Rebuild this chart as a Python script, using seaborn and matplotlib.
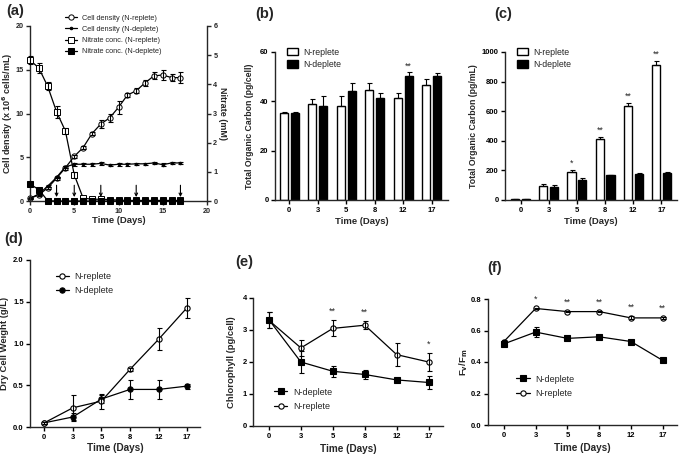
import numpy as np
import pandas as pd
import matplotlib
matplotlib.use("Agg")
import matplotlib.pyplot as plt
import seaborn as sns

# ---------------- data ----------------
# (a) growth and nitrate, daily
days_a = list(range(18))
cell_rep = [0.3, 0.7, 1.5, 2.6, 3.8, 5.1, 6.1, 7.7, 8.8, 9.5, 10.7, 12.1, 12.6, 13.5, 14.3, 14.4, 14.1, 14.1]
cell_rep_err = [0.1, 0.1, 0.15, 0.15, 0.2, 0.2, 0.2, 0.2, 0.4, 0.5, 0.7, 0.2, 0.3, 0.3, 0.4, 0.6, 0.4, 0.6]
cell_dep = [0.3, 0.8, 1.7, 2.7, 3.9, 4.2, 4.2, 4.2, 4.3, 4.1, 4.2, 4.2, 4.25, 4.25, 4.35, 4.15, 4.35, 4.35]
cell_dep_err = [0.1, 0.1, 0.1, 0.1, 0.15, 0.15, 0.15, 0.15, 0.15, 0.15, 0.15, 0.15, 0.15, 0.1, 0.1, 0.15, 0.1, 0.1]
nit_rep = [4.83, 4.56, 3.93, 3.06, 2.40, 0.90, 0.10, 0.06, 0.06, 0.05, 0.03, 0.02, 0.02, 0.02, 0.02, 0.02, 0.02, 0.02]
nit_rep_err = [0.14, 0.17, 0.14, 0.20, 0.09, 0.11, 0.02, 0.02, 0.02, 0.02, 0.01, 0.01, 0.01, 0.01, 0.01, 0.01, 0.01, 0.01]
nit_dep = [0.58, 0.39, 0.01, 0.0, 0.0, 0.0, 0.0, 0.0, 0.0, 0.0, 0.0, 0.0, 0.0, 0.0, 0.0, 0.0, 0.0, 0.0]
nit_dep_err = [0.03, 0.05, 0.01, 0.0, 0.0, 0.0, 0.0, 0.0, 0.0, 0.0, 0.0, 0.0, 0.0, 0.0, 0.0, 0.0, 0.0, 0.0]
arrow_days = [3, 5, 8, 12, 17]

# sampling days for panels (b)-(f)
days_cat = ["0", "3", "5", "8", "12", "17"]
groups = ["N-replete", "N-deplete"]

# (b) TOC per cell (pg/cell)
toc_cell_rep = [35.2, 39.0, 38.2, 44.4, 41.2, 46.8]
toc_cell_rep_err = [0.4, 1.8, 4.1, 2.9, 2.0, 2.3]
toc_cell_dep = [35.2, 38.1, 44.3, 41.2, 50.2, 50.3]
toc_cell_dep_err = [0.4, 4.2, 3.0, 2.0, 1.5, 1.3]
stars_b_dep = ["", "", "", "", "**", ""]

# (c) TOC per volume (pg/mL)
toc_ml_rep = [5, 96, 186, 415, 632, 913]
toc_ml_rep_err = [2, 10, 18, 12, 22, 28]
toc_ml_dep = [5, 90, 135, 168, 179, 184]
toc_ml_dep_err = [2, 10, 15, 4, 4, 4]
stars_c_rep = ["", "", "*", "**", "**", "**"]

# (d) dry cell weight (g/L)
dcw_rep = [0.05, 0.23, 0.31, 0.69, 1.05, 1.43]
dcw_rep_err = [0.01, 0.15, 0.09, 0.02, 0.13, 0.12]
dcw_dep = [0.05, 0.12, 0.335, 0.45, 0.45, 0.49]
dcw_dep_err = [0.01, 0.05, 0.05, 0.11, 0.11, 0.03]

# (e) chlorophyll (pg/cell)
chl_rep = [3.30, 2.44, 3.05, 3.15, 2.23, 2.00]
chl_rep_err = [0.25, 0.25, 0.25, 0.12, 0.36, 0.27]
chl_dep = [3.32, 2.00, 1.71, 1.61, 1.44, 1.36]
chl_dep_err = [0.25, 0.35, 0.17, 0.14, 0.05, 0.20]
stars_e = ["", "", "**", "**", "", "*"]

# (f) Fv/Fm
fv_rep = [0.53, 0.74, 0.72, 0.72, 0.68, 0.68]
fv_rep_err = [0.01, 0.005, 0.005, 0.005, 0.01, 0.005]
fv_dep = [0.515, 0.59, 0.55, 0.56, 0.53, 0.41]
fv_dep_err = [0.015, 0.03, 0.01, 0.01, 0.01, 0.01]
stars_f = ["", "*", "**", "**", "**", "**"]

# ---------------- style ----------------
sns.set_theme(style="ticks")
plt.rcParams["font.family"] = ["Liberation Sans", "DejaVu Sans"]
plt.rcParams["axes.linewidth"] = 1.0
plt.rcParams["xtick.major.width"] = 1.0
plt.rcParams["ytick.major.width"] = 1.0
plt.rcParams["xtick.major.size"] = 3
plt.rcParams["ytick.major.size"] = 3
plt.rcParams["xtick.major.pad"] = 2
plt.rcParams["ytick.major.pad"] = 1.5

W, H = 685, 457
fig = plt.figure(figsize=(W / 100, H / 100), dpi=100)


def px_axes(l, t, r, b):
    return fig.add_axes([l / W, 1 - b / H, (r - l) / W, (b - t) / H])


def style_ax(ax, tick_fs=5.5):
    sns.despine(ax=ax)
    ax.tick_params(labelsize=tick_fs, colors="black", direction="out")
    for lab in ax.get_xticklabels() + ax.get_yticklabels():
        lab.set_fontweight("bold")


def panel_letter(x, y, s):
    fig.text(x / W, 1 - y / H, s, fontsize=10.5, fontweight="bold", va="top", ha="left")


EB = dict(fmt="none", ecolor="black", elinewidth=0.8, capsize=1.8, capthick=0.8, clip_on=False)

# ================= (a) =================
axa = px_axes(30, 26, 207, 201)
axb2 = axa.twinx()
sns.lineplot(x=days_a, y=cell_rep, ax=axa, color="black", marker="o", markersize=3.8,
             markerfacecolor="white", markeredgecolor="black", markeredgewidth=0.7,
             linewidth=0.9, errorbar=None, clip_on=False)
h1 = axa.lines[-1]
axa.errorbar(days_a, cell_rep, yerr=cell_rep_err, **EB)
sns.lineplot(x=days_a, y=cell_dep, ax=axa, color="black", marker="o", markersize=1.8,
             markerfacecolor="black", markeredgecolor="black", linewidth=0.9, errorbar=None,
             clip_on=False)
h2 = axa.lines[-1]
axa.errorbar(days_a, cell_dep, yerr=cell_dep_err, **EB)

sns.lineplot(x=days_a, y=nit_rep, ax=axb2, color="black", marker="s", markersize=3.8,
             markerfacecolor="white", markeredgecolor="black", markeredgewidth=0.7,
             linewidth=0.9, errorbar=None, clip_on=False)
h3 = axb2.lines[-1]
axb2.errorbar(days_a, nit_rep, yerr=nit_rep_err, **EB)
sns.lineplot(x=days_a, y=nit_dep, ax=axb2, color="black", marker="s", markersize=3.8,
             markerfacecolor="black", markeredgecolor="black", linewidth=0.9, errorbar=None,
             clip_on=False)
h4 = axb2.lines[-1]
axb2.errorbar(days_a, nit_dep, yerr=nit_dep_err, **EB)

for d in arrow_days:
    axa.annotate("", xy=(d, 0.45), xytext=(d, 1.8),
                 arrowprops=dict(arrowstyle="->", color="black", lw=0.8,
                                 shrinkA=0, shrinkB=0, mutation_scale=5))

axa.set_xlim(0, 20)
axa.set_ylim(0, 20)
axb2.set_ylim(0, 6)
axa.set_xticks([0, 5, 10, 15, 20])
axa.set_yticks([0, 5, 10, 15, 20])
axb2.set_yticks([0, 1, 2, 3, 4, 5, 6])
axa.spines["top"].set_visible(False)
axb2.spines["top"].set_visible(False)
axa.spines["right"].set_visible(False)
axb2.spines["left"].set_visible(False)
axb2.spines["bottom"].set_visible(False)
axa.tick_params(labelsize=5.2, direction="out")
axb2.tick_params(labelsize=5.2, direction="out")
for lab in axa.get_xticklabels() + axa.get_yticklabels() + axb2.get_yticklabels():
    lab.set_fontweight("bold")
axa.set_xlabel("Time (Days)", fontsize=6.8, fontweight="bold")
axa.xaxis.set_label_coords(0.5, -0.086)
axa.set_ylabel("Cell density (x 10$^{\\mathbf{6}}$ cells/mL)", fontsize=6.5, fontweight="bold")
axa.yaxis.set_label_coords(-0.085, 0.5)
axb2.set_ylabel("Nitrate (mM)", fontsize=6.5, fontweight="bold", rotation=270, va="center")
axb2.yaxis.set_label_coords(1.09, 0.5)
axb2.legend([h1, h2, h3, h4],
            ["Cell density (N-replete)", "Cell density (N-deplete)",
             "Nitrate conc. (N-replete)", "Nitrate conc. (N-deplete)"],
            loc="center left", bbox_to_anchor=(0.2, 0.949), frameon=False, fontsize=5.3,
            handlelength=1.6, handletextpad=0.6, labelspacing=0.55, borderpad=0,
            borderaxespad=0)
panel_letter(6, 4, "(a)")


# ================= bar panels =================
def bar_panel(ax, rep, rep_err, dep, dep_err, ylim, yticks, ylabel, ylab_x, xlim, stars, star_group):
    df = pd.DataFrame({
        "day": days_cat * 2,
        "value": rep + dep,
        "group": [groups[0]] * len(days_cat) + [groups[1]] * len(days_cat),
    })
    sns.barplot(data=df, x="day", y="value", hue="group", order=days_cat, hue_order=groups,
                palette={"N-replete": "white", "N-deplete": "black"}, edgecolor="black",
                linewidth=1.0, width=0.76, gap=0.24, errorbar=None, ax=ax)
    for cont, err, vals in zip(ax.containers, [rep_err, dep_err], [rep, dep]):
        xs = [b.get_x() + b.get_width() / 2 for b in cont]
        ax.errorbar(xs, vals, yerr=[[0] * len(vals), err], **EB)
    cont = ax.containers[star_group]
    vals = [rep, dep][star_group]
    errs = [rep_err, dep_err][star_group]
    for b, v, e, s in zip(cont, vals, errs, stars):
        if s:
            ax.annotate(s, (b.get_x() + b.get_width() / 2, v + e), xytext=(0, 1.5),
                        textcoords="offset points", ha="center", va="bottom", fontsize=6.3)
    ax.set_ylim(*ylim)
    ax.set_yticks(yticks)
    ax.set_xlim(*xlim)
    style_ax(ax)
    ax.set_xlabel("Time (Days)", fontsize=6.8, fontweight="bold")
    ax.xaxis.set_label_coords(0.5, -0.117)
    ax.set_ylabel(ylabel, fontsize=6.3, fontweight="bold")
    ax.yaxis.set_label_coords(ylab_x, 0.5)
    handles, labels = ax.get_legend_handles_labels()
    ax.legend(handles, labels, loc="upper left", bbox_to_anchor=(0.07, 1.03), frameon=False,
              fontsize=6.3, handlelength=1.3, handleheight=1.0, handletextpad=0.6,
              labelspacing=0.35, borderpad=0, borderaxespad=0)


axb = px_axes(275, 52, 448, 200)
bar_panel(axb, toc_cell_rep, toc_cell_rep_err, toc_cell_dep, toc_cell_dep_err,
          (0, 60), [0, 20, 40, 60], "Total Organic Carbon (pg/cell)", -0.121,
          (-0.5, 5.57), stars_b_dep, 1)
panel_letter(255, 7, "(b)")

axc = px_axes(505, 52, 677, 200)
bar_panel(axc, toc_ml_rep, toc_ml_rep_err, toc_ml_dep, toc_ml_dep_err,
          (0, 1000), [0, 200, 400, 600, 800, 1000], "Total Organic Carbon (pg/mL)", -0.157,
          (-0.55, 5.55), stars_c_rep, 0)
panel_letter(494, 7, "(c)")


# ================= point panels =================
def point_panel(ax, series, ylim, yticks, ylabel, ylab_x, xlab_y, stars, star_series,
                legend_anchor, legend_order, yfmt=None):
    handles = {}
    for name, vals, errs, mk, fc in series:
        sns.pointplot(x=days_cat, y=vals, order=days_cat, color="black", markers=mk,
                      markersize=3.8, linewidth=0.9, markerfacecolor=fc,
                      markeredgecolor="black", markeredgewidth=0.8, errorbar=None, ax=ax)
        ln = ax.lines[-1]
        handles[name] = ln
        xs = ln.get_xdata()
        ax.errorbar(xs, vals, yerr=errs, **EB)
    ln = handles[star_series[0]]
    xs = ln.get_xdata()
    for x, v, e, s in zip(xs, star_series[1], star_series[2], stars):
        if s:
            ax.annotate(s, (x, v + e), xytext=(0, 3), textcoords="offset points",
                        ha="center", va="bottom", fontsize=6.5)
    ax.set_ylim(*ylim)
    ax.set_yticks(yticks)
    if yfmt:
        ax.set_yticklabels([yfmt.format(t) for t in yticks])
    ax.set_xlim(-0.5, 5.45)
    style_ax(ax)
    ax.set_xlabel("Time (Days)", fontsize=7.2, fontweight="bold")
    ax.xaxis.set_label_coords(0.5, xlab_y)
    ax.set_ylabel(ylabel, fontsize=6.8, fontweight="bold")
    ax.yaxis.set_label_coords(ylab_x, 0.5)
    ax.legend([handles[n] for n in legend_order], legend_order, loc="upper left",
              bbox_to_anchor=legend_anchor, frameon=False, fontsize=6.5, handlelength=1.5,
              handletextpad=0.6, labelspacing=0.6, borderpad=0, borderaxespad=0)


axd = px_axes(30, 260, 200, 427)
point_panel(axd,
            [("N-deplete", dcw_dep, dcw_dep_err, "o", "black"),
             ("N-replete", dcw_rep, dcw_rep_err, "o", "white")],
            (0, 2.0), [0.0, 0.5, 1.0, 1.5, 2.0], "Dry Cell Weight (g/L)", -0.124, -0.096,
            ["", "", "", "", "", ""], ("N-replete", dcw_rep, dcw_rep_err),
            (0.15, 0.93), ["N-replete", "N-deplete"], "{:.1f}")
panel_letter(4, 232, "(d)")

axe = px_axes(253, 298, 443, 426)
point_panel(axe,
            [("N-replete", chl_rep, chl_rep_err, "o", "white"),
             ("N-deplete", chl_dep, chl_dep_err, "s", "black")],
            (0, 4), [0, 1, 2, 3, 4], "Chlorophyll (pg/cell)", -0.09, -0.144,
            stars_e, ("N-replete", chl_rep, chl_rep_err),
            (0.11, 0.30), ["N-deplete", "N-replete"])
panel_letter(235, 255, "(e)")

axf = px_axes(488, 299, 677, 425)
point_panel(axf,
            [("N-replete", fv_rep, fv_rep_err, "o", "white"),
             ("N-deplete", fv_dep, fv_dep_err, "s", "black")],
            (0, 0.8), [0.0, 0.2, 0.4, 0.6, 0.8], "F$_\\mathbf{v}$/F$_\\mathbf{m}$", -0.095, -0.146,
            stars_f, ("N-replete", fv_rep, fv_rep_err),
            (0.15, 0.40), ["N-deplete", "N-replete"], "{:.1f}")
panel_letter(487, 261, "(f)")

fig.savefig("out.png", dpi=100)
